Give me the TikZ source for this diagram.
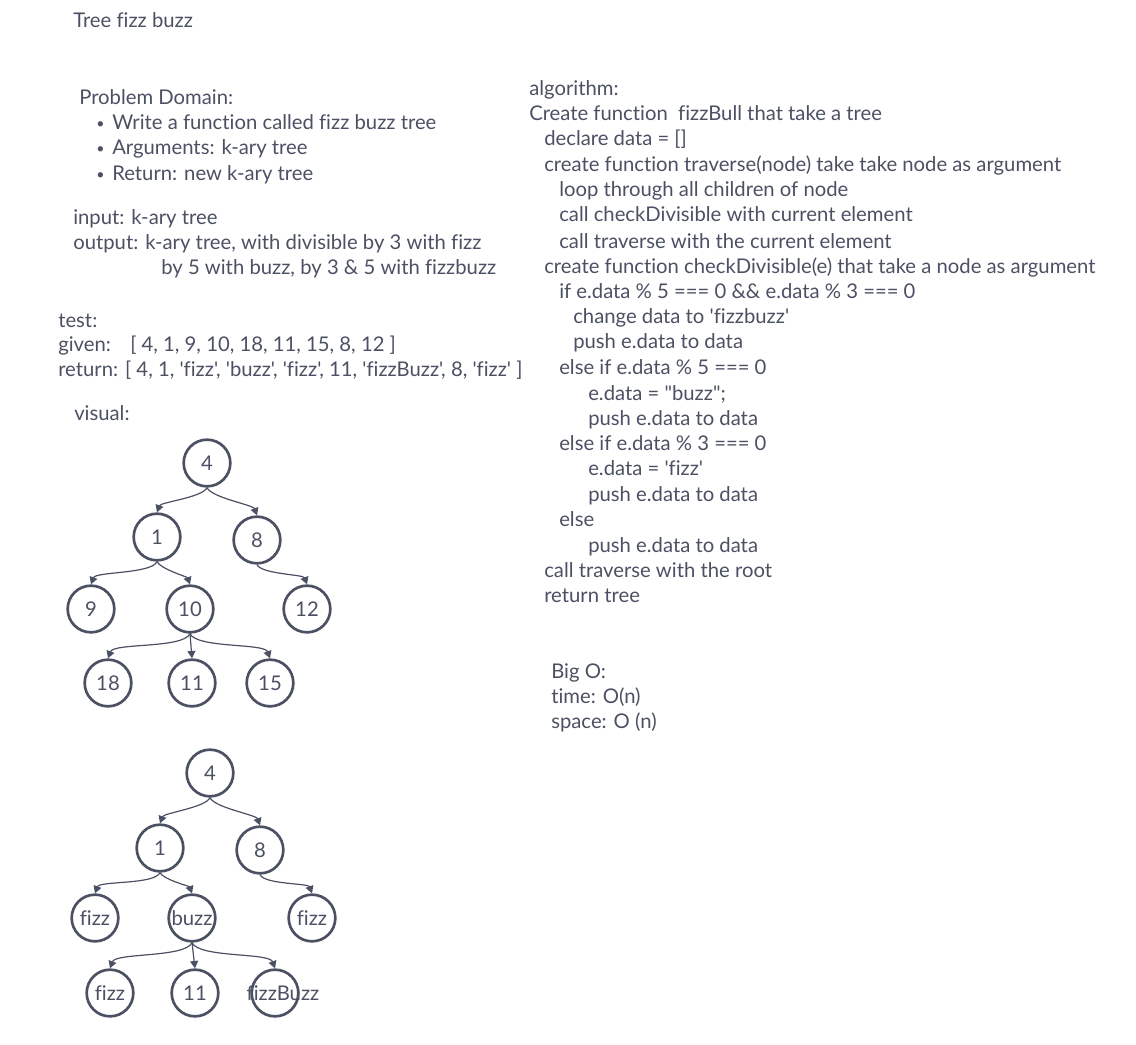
\documentclass[tikz,border=0pt]{standalone}
\usepackage{fontspec}
\setmainfont{Lato}[Ligatures={TeXOff,CommonOff}]
\usetikzlibrary{arrows.meta}

\definecolor{ink}{HTML}{4B5063}

\tikzset{
  txt/.style={anchor=base west, inner sep=0pt, text=ink},
  knoten/.style={circle, draw=ink, line width=2pt, minimum size=35pt, inner sep=0pt, text=ink},
  pfeil/.style={draw=ink, line width=0.9pt, looseness=0.5, -{Triangle[width=6pt,length=5.5pt]}}
}
\newcommand{\itm}{\makebox[12pt][l]{\raisebox{1pt}{\scalebox{0.7}{\textbullet}}}}

\begin{document}
\begin{tikzpicture}[x=0.75pt, y=-0.75pt, font=\fontsize{15.2}{18}\selectfont]
    \useasboundingbox (0,0) rectangle (1136,1045);

    % Titel
    \node[txt] (titel) at (73,28) {Tree fizz buzz};

    % Problem Domain
    \node[txt] (domain) at (79,105) {Problem Domain:};
    \node[txt] (arg1) at (96,130) {\itm Write a function called fizz buzz tree};
    \node[txt] (arg2) at (96,155) {\itm Arguments: k-ary tree};
    \node[txt] (arg3) at (96,181) {\itm Return: new k-ary tree};

    \node[txt] (input) at (73,224) {input: k-ary tree};
    \node[txt] (output) at (73,249) {output: k-ary tree, with divisible by 3 with fizz};
    \node[txt] (output2) at (161,274) {by 5 with buzz, by 3 \& 5 with fizzbuzz};

    % Test
    \node[txt] (test) at (58,327) {test:};
    \node[txt] (given) at (58,351) {\makebox[54pt][l]{given:}[ 4, 1, 9, 10, 18, 11, 15, 8, 12 ]};
    \node[txt] (return) at (58,376) {return: [ 4, 1, 'fizz', 'buzz', 'fizz', 11, 'fizzBuzz', 8, 'fizz' ]};

    \node[txt] (visual) at (74,420) {visual:};

    % Algorithmus
    \node[txt] (algo) at (529,96) {algorithm:};
    \node[txt] (a1) at (529,121) {Create function\ \ fizzBull that take a tree};
    \node[txt] (a2) at (544,146) {declare data = []};
    \node[txt] (a3) at (544,172) {create function traverse(node) take take node as argument};
    \node[txt] (a4) at (559,197) {loop through all children of node};
    \node[txt] (a5) at (559,222) {call checkDivisible with current element};
    \node[txt] (a6) at (559,248) {call traverse with the current element};
    \node[txt] (a7) at (544,273) {create function checkDivisible(e) that take a node as argument};
    \node[txt] (a8) at (559,299) {if e.data \% 5 === 0 \&\& e.data \% 3 === 0};
    \node[txt] (a9) at (573,324) {change data to 'fizzbuzz'};
    \node[txt] (a10) at (573,349) {push e.data to data};
    \node[txt] (a11) at (559,374) {else if e.data \% 5 === 0};
    \node[txt] (a12) at (588,400) {e.data = "buzz";};
    \node[txt] (a13) at (588,425) {push e.data to data};
    \node[txt] (a14) at (559,450) {else if e.data \% 3 === 0};
    \node[txt] (a15) at (588,475) {e.data = 'fizz'};
    \node[txt] (a16) at (588,501) {push e.data to data};
    \node[txt] (a17) at (559,526) {else};
    \node[txt] (a18) at (588,552) {push e.data to data};
    \node[txt] (a19) at (544,577) {call traverse with the root};
    \node[txt] (a20) at (544,602) {return tree};

    % Big O
    \node[txt] (bigo) at (551,678) {Big O:};
    \node[txt] (time) at (551,703) {time: O(n)};
    \node[txt] (space) at (551,728) {space: O (n)};

    % Baum vorher
    \node[knoten] (v4) at (207,463) {4};
    \node[knoten] (v1) at (157,537) {1};
    \node[knoten] (v8) at (257,540) {8};
    \node[knoten] (v9) at (91,609) {9};
    \node[knoten] (v10) at (190,609) {10};
    \node[knoten] (v12) at (307,609) {12};
    \node[knoten] (v18) at (108,683) {18};
    \node[knoten] (v11) at (192,683) {11};
    \node[knoten] (v15) at (270,683) {15};

    \draw[pfeil] (v4.south) to[out=-115,in=70] (v1.north);
    \draw[pfeil] (v4.south) to[out=-65,in=110] (v8.north);
    \draw[pfeil] (v1.south) to[out=-115,in=70] (v9.north);
    \draw[pfeil] (v1.south) to[out=-65,in=110] (v10.north);
    \draw[pfeil] (v8.south) to[out=-65,in=110] (v12.north);
    \draw[pfeil] (v10.south) to[out=-115,in=70] (v18.north);
    \draw[pfeil] (v10.south) -- (v11.north);
    \draw[pfeil] (v10.south) to[out=-65,in=110] (v15.north);

    % Baum nachher
    \node[knoten] (n4) at (210,773) {4};
    \node[knoten] (n1) at (160,848) {1};
    \node[knoten] (n8) at (260,850) {8};
    \node[knoten] (nfizza) at (95,918) {fizz};
    \node[knoten] (nbuzz) at (192,918) {buzz};
    \node[knoten] (nfizzb) at (312,918) {fizz};
    \node[knoten] (nfizzc) at (110,993) {fizz};
    \node[knoten] (n11) at (195,993) {11};
    \node[knoten] (nfb) at (275,993) {\makebox[0pt]{\hspace*{12pt}fizzBuzz}};

    \draw[pfeil] (n4.south) to[out=-115,in=70] (n1.north);
    \draw[pfeil] (n4.south) to[out=-65,in=110] (n8.north);
    \draw[pfeil] (n1.south) to[out=-115,in=70] (nfizza.north);
    \draw[pfeil] (n1.south) to[out=-65,in=110] (nbuzz.north);
    \draw[pfeil] (n8.south) to[out=-65,in=110] (nfizzb.north);
    \draw[pfeil] (nbuzz.south) to[out=-115,in=70] (nfizzc.north);
    \draw[pfeil] (nbuzz.south) -- (n11.north);
    \draw[pfeil] (nbuzz.south) to[out=-65,in=110] (nfb.north);
\end{tikzpicture}
\end{document}
